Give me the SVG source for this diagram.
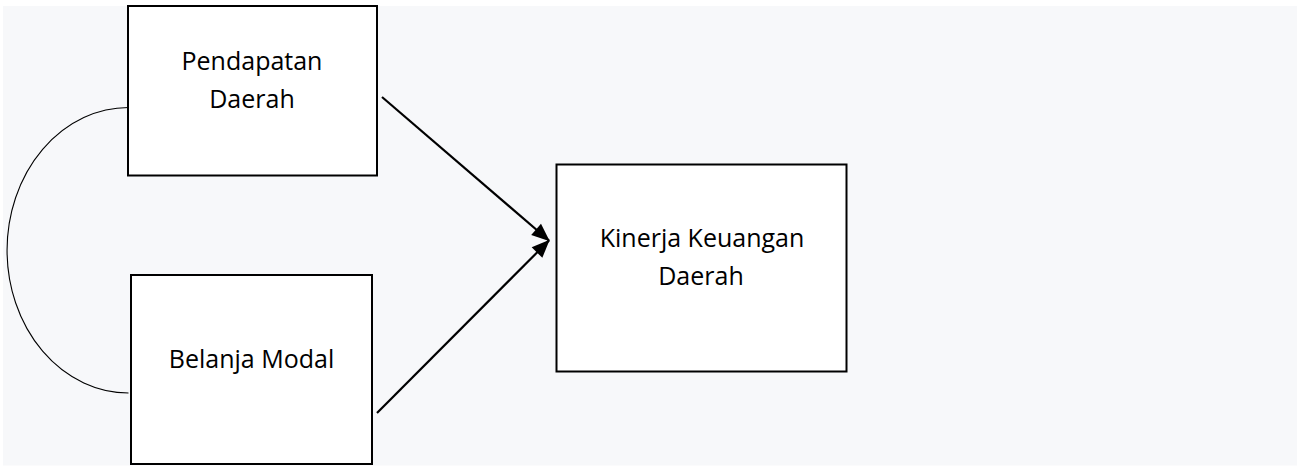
<svg xmlns="http://www.w3.org/2000/svg" width="1298" height="466" viewBox="0 0 1298 466">
  <style>
    .box { fill: #ffffff; stroke: #000000; stroke-width: 2; }
    .label { font-family: "Open Sans", "Liberation Sans", sans-serif; font-size: 25px; fill: #000000; text-anchor: middle; }
    .arrow { fill: none; stroke: #000000; stroke-width: 2.2; }
    .link { fill: none; stroke: #000000; stroke-width: 1.1; }
  </style>
  <defs>
    <marker id="head" markerUnits="userSpaceOnUse" markerWidth="22" markerHeight="18" viewBox="-20 -9 22 18" refX="0" refY="0" orient="auto">
      <path d="M1,0 L-17,-7.5 L-17,7.5 Z" fill="#000000"/>
    </marker>
  </defs>

  <!-- page background -->
  <rect x="0" y="0" width="1298" height="466" fill="#ffffff"/>
  <rect x="3" y="6" width="1294" height="459.5" fill="#f7f8fa"/>

  <!-- connectors -->
  <g id="connectors">
    <path class="link" d="M128.5,107.5 A121.5,142.75 0 0 0 128.5,393"/>
    <line class="arrow" x1="382" y1="97" x2="549" y2="240.5" marker-end="url(#head)"/>
    <line class="arrow" x1="377" y1="413" x2="549" y2="240.5" marker-end="url(#head)"/>
  </g>

  <g id="pendapatan-daerah">
    <rect class="box" x="128" y="6" width="249" height="169.5"/>
    <text class="label" x="252" y="70">Pendapatan</text>
    <text class="label" x="252" y="108">Daerah</text>
  </g>

  <g id="belanja-modal">
    <rect class="box" x="131" y="275" width="241" height="189"/>
    <text class="label" x="251.5" y="368">Belanja Modal</text>
  </g>

  <g id="kinerja-keuangan-daerah">
    <rect class="box" x="556.5" y="164.5" width="290" height="207"/>
    <text class="label" x="702" y="246.5">Kinerja Keuangan</text>
    <text class="label" x="701" y="285">Daerah</text>
  </g>
</svg>
